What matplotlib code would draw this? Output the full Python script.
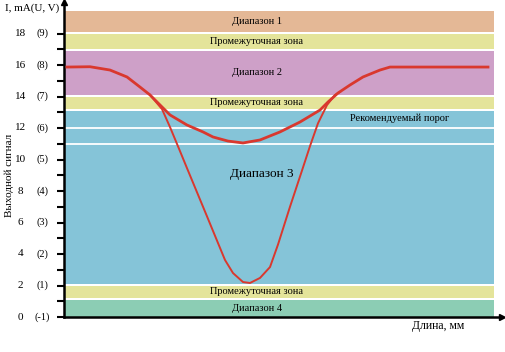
import numpy as np
import matplotlib.pyplot as plt

plt.rcParams['font.family'] = ['Liberation Serif', 'DejaVu Serif']

# zones (signal, mA)
band_lo = [0.0, 1.2, 2.1, 13.2, 14.1, 17.0, 18.1]
band_hi = [1.1, 2.0, 13.1, 14.0, 16.9, 18.0, 19.4]
band_colors = ['#8ccdb4', '#e4e49a', '#85c4d8', '#e4e49a', '#cea0c8',
               '#e4e49a', '#e4b896']
band_names = ['Диапазон 4', 'Промежуточная зона', '', 'Промежуточная зона',
              'Диапазон 2', 'Промежуточная зона', 'Диапазон 1']
thresholds = [11.0, 12.0]

# y ticks: current and voltage
ticks_ma = [0, 2, 4, 6, 8, 10, 12, 14, 16, 18]
ticks_v = ['(-1)', '(1)', '(2)', '(3)', '(4)', '(5)', '(6)', '(7)', '(8)', '(9)']

# signal along the length
shallow_x = [3, 26, 46, 63, 76, 86, 94, 106, 123, 139, 149, 164, 179, 196,
             216, 236, 256, 264, 274, 286, 299, 316, 326, 424]
shallow_y = [15.87, 15.89, 15.68, 15.24, 14.6, 14.1, 13.59, 12.83, 12.19,
             11.75, 11.43, 11.17, 11.05, 11.24, 11.75, 12.38, 13.14, 13.65,
             14.22, 14.73, 15.24, 15.68, 15.87, 15.87]
deep_x = [86, 98, 106, 116, 123, 133, 143, 153, 161, 169, 179, 186, 196, 206,
          214, 226, 238, 246, 254, 263, 271, 276]
deep_y = [14.1, 13.2, 12.06, 10.53, 9.45, 7.92, 6.39, 4.85, 3.62, 2.79, 2.22,
          2.16, 2.48, 3.17, 4.6, 7.0, 9.3, 10.85, 12.3, 13.46, 14.1, 14.29]

band_end = 430

fig = plt.figure(figsize=(5.06, 3.52), dpi=100)
ax = fig.add_axes([64 / 506, 35 / 352, 438 / 506, 315 / 352])
ax.set_xlim(0, 438)
ax.set_ylim(0, 20)

for lo, hi, c in zip(band_lo, band_hi, band_colors):
    ax.fill_between([0, band_end], lo, hi, color=c, lw=0, zorder=1)
ax.hlines(thresholds, 0, band_end, colors='white', lw=1.3, zorder=2)

for lo, hi, name in zip(band_lo, band_hi, band_names):
    if name:
        ax.text(193, (lo + hi) / 2, name, ha='center', va='center',
                fontsize=7.5, zorder=4)
ax.text(198, 9.1, 'Диапазон 3', ha='center', va='center', fontsize=9.5,
        zorder=4)
ax.text(336, 12.6, 'Рекомендуемый порог', ha='center', va='center',
        fontsize=7.5, zorder=4)

red = '#d9382e'
ax.plot(deep_x, deep_y, color=red, lw=1.4, zorder=3, solid_joinstyle='round')
ax.plot(shallow_x, shallow_y, color=red, lw=2.0, zorder=3,
        solid_joinstyle='round')

# axes with arrows
for s in ['top', 'right']:
    ax.spines[s].set_visible(False)
ax.spines['left'].set_linewidth(1.8)
ax.spines['bottom'].set_linewidth(1.8)
ax.plot(0, 1, '^k', ms=5, transform=ax.transAxes, clip_on=False)
ax.plot(1, 0, '>k', ms=5, transform=ax.transAxes, clip_on=False)

ax.set_xticks([])
ax.set_yticks(ticks_ma, labels=[''] * len(ticks_ma))
ax.set_yticks(np.arange(1, 19, 2), minor=True)
ax.tick_params(axis='y', which='both', direction='out', length=5, width=1.5)

tr = ax.get_yaxis_transform()
for v, lv in zip(ticks_ma, ticks_v):
    ax.text(-0.10, v, str(v), transform=tr, ha='center', va='center',
            fontsize=8)
    ax.text(-0.05, v, lv, transform=tr, ha='center', va='center',
            fontsize=7.5)

ax.text(-0.135, 19.6, 'I, mA(U, V)', transform=tr, ha='left', va='center',
        fontsize=8)
ax.text(-0.125, 9.0, 'Выходной сигнал', transform=tr, rotation=90,
        ha='center', va='center', fontsize=8)
ax.text(374, -0.6, 'Длина, мм', ha='center', va='center', fontsize=8.5,
        clip_on=False)

fig.savefig('out.png', dpi=100)
